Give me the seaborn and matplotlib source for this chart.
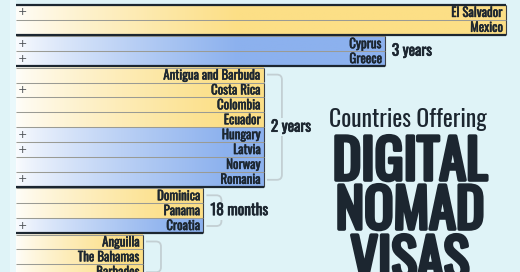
import numpy as np
import pandas as pd
import matplotlib
matplotlib.use("Agg")
import matplotlib.pyplot as plt
import matplotlib.patheffects as pe
import seaborn as sns
from matplotlib.path import Path
from matplotlib.patches import PathPatch
from matplotlib.colors import to_rgb

# ---------------- data ----------------
countries = ["El Salvador", "Mexico", "Cyprus", "Greece", "Antigua and Barbuda",
             "Costa Rica", "Colombia", "Ecuador", "Hungary", "Latvia", "Norway",
             "Romania", "Dominica", "Panama", "Croatia", "Anguilla", "The Bahamas",
             "Barbados"]
months = [48, 48, 36, 36, 24, 24, 24, 24, 24, 24, 24, 24, 18, 18, 18, 12, 12, 12]
region = ["Americas", "Americas", "Europe", "Europe", "Americas", "Americas",
          "Americas", "Americas", "Europe", "Europe", "Europe", "Europe",
          "Americas", "Americas", "Europe", "Americas", "Americas", "Americas"]
renewable = [True, False, True, True, False, True, False, False, True, True,
             False, True, False, False, True, False, False, False]
group_months = [48, 36, 24, 18, 12]
group_labels = ["", "3 years", "2 years", "18 months", ""]

# ---------------- style / layout ----------------
BG = "#dff3f7"
DARK = "#1c2630"
palette = {"Americas": "#fcdf86", "Europe": "#8cb1ee"}
W, H = 520, 272
PPM = 10.08      # pixels per month
X0 = 22          # pixel of zero months
XL = 16          # pixel where bars visually start
ROW = 14.9       # pixel height of a row
TOP = 5          # pixel of first row top
GAP = 1.5        # pixel gap between groups
FONTS = ["Oswald", "Barlow Condensed", "DejaVu Sans"]

sns.set_theme(style="white")
plt.rcParams["font.family"] = FONTS

grp = np.cumsum([0] + [1 if months[i] != months[i - 1] else 0 for i in range(1, len(months))])
pos = np.arange(len(months)) + grp * GAP / ROW
df = pd.DataFrame(dict(country=countries, months=months, region=region, pos=pos))

fig = plt.figure(figsize=(W / 100, H / 100), dpi=100)
fig.patch.set_facecolor(BG)
ax = fig.add_axes([0, 0, 1, 1])
ax.set_facecolor(BG)

sns.barplot(data=df, x="months", y="pos", hue="region", palette=palette,
            orient="y", native_scale=True, dodge=False, width=1.0,
            saturation=1.0, legend=False, ax=ax, linewidth=0, zorder=1)

px_x = lambda p: p / PPM
px_y = lambda p: p / ROW
xL = (XL - X0) / PPM

# light band at the left margin
ax.axvspan((10 - X0) / PPM, xL, color="#eaf8fb", lw=0, zorder=0)

white = np.array([1.0, 1.0, 1.0])
bars = []
for p in ax.patches:
    w, y, h = p.get_width(), p.get_y(), p.get_height()
    if w <= 0 or h <= 0 or p.get_x() != 0:
        continue
    c = np.array(to_rgb(p.get_facecolor()))
    start = 0.96 * white + 0.04 * c
    N = 300
    xs = np.linspace(xL, w, N)
    ramp = min(0.85 * (w - xL), 22.0)
    t = np.clip((xs - xL) / ramp, 0, 1) ** 0.8
    img = (start[None, :] * (1 - t[:, None]) + c[None, :] * t[:, None])[None, :, :]
    ax.imshow(img, extent=(xL, w, y + h, y), aspect="auto", zorder=2,
              interpolation="bilinear")
    ax.hlines(y, xL, w, color="#9a9b94", lw=0.75, zorder=3)
    ax.vlines(w, y, y + h, color="#3c4046", lw=0.8, zorder=3)
    bars.append((y + h / 2, y, h, w))

bars.sort()
ax.set_xlim((0 - X0) / PPM, (W - X0) / PPM)
ax.set_ylim((H - TOP) / ROW - 0.5, (0 - TOP) / ROW - 0.5)
ax.axis("off")

bold = lambda lw: [pe.withStroke(linewidth=lw, foreground=DARK)]

for (yc, y, h, w), name, ren in zip(bars, countries, renewable):
    ax.text(w - px_x(3), yc, name, ha="right", va="center", fontsize=9.3,
            color=DARK, zorder=4, path_effects=bold(0.35))
    if ren:
        ax.text(0.05, yc, "+", ha="center", va="center", fontsize=8,
                color="#4a4e53", zorder=4, family="DejaVu Sans")

for gi, (gm, lab) in enumerate(zip(group_months, group_labels)):
    rows = [b for b, m in zip(bars, months) if m == gm]
    top = rows[0][1]
    bot = rows[-1][1] + rows[-1][2]
    end = max(r[3] for r in rows)
    if gi == 0:
        ax.hlines(top, xL, end, color=DARK, lw=1.6, zorder=5)
    ax.hlines(bot, xL, end, color=DARK, lw=1.6, zorder=5)
    if len(rows) >= 3:
        x0, x1 = end + px_x(3), end + px_x(18)
        yt, yb = top + px_y(7), bot - px_y(7)
        rx, ry = px_x(5), px_y(5)
        verts = [(x0, yt), (x1 - rx, yt), (x1, yt), (x1, yt + ry),
                 (x1, yb - ry), (x1, yb), (x1 - rx, yb), (x0, yb)]
        codes = [Path.MOVETO, Path.LINETO, Path.CURVE3, Path.CURVE3,
                 Path.LINETO, Path.CURVE3, Path.CURVE3, Path.LINETO]
        ax.add_patch(PathPatch(Path(verts, codes), fill=False, ec="#c3cfd3",
                               lw=1.3, zorder=3))
    if lab:
        ax.text(end + px_x(7), (top + bot) / 2, lab, ha="left", va="center",
                fontsize=11, color=DARK, zorder=6, path_effects=bold(0.5),
                bbox=dict(facecolor=BG, edgecolor="none", pad=1.0))

cx = 408 / W
fig.text(cx, 1 - 127 / H, "Countries Offering", ha="center", va="baseline",
         fontsize=17, fontweight="light", color=DARK)
for word, base in zip(["DIGITAL", "NOMAD", "VISAS"], [180, 229, 279]):
    fig.text(cx + 2 / W, 1 - base / H, word, ha="center", va="baseline", fontsize=39,
             fontweight="bold", color=DARK, path_effects=bold(2.6))

fig.savefig("out.png", dpi=100, facecolor=BG)
